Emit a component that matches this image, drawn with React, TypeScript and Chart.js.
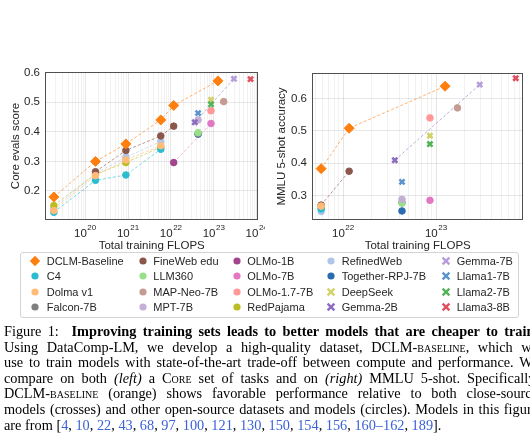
import React, { useEffect, useRef } from "react";
import { Chart, registerables } from "chart.js";
Chart.register(...registerables);

const SANS = "'Liberation Sans', Arial, Helvetica, sans-serif";
const SERIF = "'Liberation Serif', 'Times New Roman', Times, serif";

// ---------------- Left panel: Core evals score ----------------
const coreDclmFlops = [1.86e19, 1.74e20, 8.9e20, 5.8e21, 1.16e22, 1.25e23];
const coreDclm = [0.18, 0.3, 0.359, 0.44, 0.489, 0.572];
const coreFinewebFlops = [1.74e20, 8.9e20, 5.8e21, 1.16e22];
const coreFineweb = [0.265, 0.337, 0.386, 0.419];
const coreScaleFlops = [1.86e19, 1.74e20, 8.9e20, 5.8e21];
const coreC4 = [0.128, 0.236, 0.254, 0.341];
const coreDolma = [0.134, 0.252, 0.305, 0.353];
const coreRedPajama = [0.151, 0.257, 0.296, 0.348];
const coreRefinedWeb = [0.141, 0.259, 0.314, 0.367];

// ---------------- Right panel: MMLU 5-shot ----------------
const mmluDclmFlops = [5.8e21, 1.16e22, 1.25e23];
const mmluDclm = [0.383, 0.508, 0.638];
const mmluFinewebFlops = [5.8e21, 1.16e22];
const mmluFineweb = [0.27, 0.375];
const mmluScaleFlops = [5.8e21];
const mmluC4 = [0.258];
const mmluDolma = [0.267];
const mmluRedPajama = [0.262];
const mmluRefinedWeb = [0.25];

// ---------------- Single models (both panels) ----------------
const modelNames = [
  "Llama3-8B", "Gemma-7B", "Gemma-2B", "Llama1-7B", "Llama2-7B", "DeepSeek",
  "MPT-7B", "LLM360", "Falcon-7B", "Together-RPJ-7B",
  "OLMo-1.7-7B", "OLMo-7B", "OLMo-1B", "MAP-Neo-7B",
];
const modelFlops = [
  7.2e23, 2.95e23, 3.6e22, 4.3e22, 8.6e22, 8.6e22,
  4.3e22, 4.3e22, 4.3e22, 4.3e22,
  8.6e22, 8.6e22, 1.16e22, 1.7e23,
];
const modelCore = [
  0.578, 0.579, 0.432, 0.463, 0.493, 0.508,
  0.44, 0.397, 0.394, 0.392,
  0.471, 0.428, 0.296, 0.502,
];
const modelMmlu = [
  0.663, 0.643, 0.409, 0.342, 0.459, 0.485,
  0.288, 0.276, 0.278, 0.252,
  0.54, 0.285, null, 0.571,
];

// ---------------- Axis ticks ----------------
const coreYTicks = [0.2, 0.3, 0.4, 0.5, 0.6];
const mmluYTicks = [0.3, 0.4, 0.5, 0.6];
const coreXExponents = [20, 21, 22, 23, 24];
const mmluXExponents = [22, 23];

// ---------------- Legend layout (column major) ----------------
const legendColumns = [
  ["DCLM-Baseline", "C4", "Dolma v1", "Falcon-7B"],
  ["FineWeb edu", "LLM360", "MAP-Neo-7B", "MPT-7B"],
  ["OLMo-1B", "OLMo-7B", "OLMo-1.7-7B", "RedPajama"],
  ["RefinedWeb", "Together-RPJ-7B", "DeepSeek", "Gemma-2B"],
  ["Gemma-7B", "Llama1-7B", "Llama2-7B", "Llama3-8B"],
];

type Marker = "circle" | "diamond" | "cross";
const STYLE: Record<string, { color: string; marker: Marker }> = {
  "DCLM-Baseline": { color: "#ff7f0e", marker: "diamond" },
  C4: { color: "#2bbccf", marker: "circle" },
  "Dolma v1": { color: "#ffbb78", marker: "circle" },
  "Falcon-7B": { color: "#7f7f7f", marker: "circle" },
  "FineWeb edu": { color: "#8c564b", marker: "circle" },
  LLM360: { color: "#98df8a", marker: "circle" },
  "MAP-Neo-7B": { color: "#c49c94", marker: "circle" },
  "MPT-7B": { color: "#c5b0d5", marker: "circle" },
  "OLMo-1B": { color: "#a2458f", marker: "circle" },
  "OLMo-7B": { color: "#e377c2", marker: "circle" },
  "OLMo-1.7-7B": { color: "#ff9896", marker: "circle" },
  RedPajama: { color: "#bcbd22", marker: "circle" },
  RefinedWeb: { color: "#aec7e8", marker: "circle" },
  "Together-RPJ-7B": { color: "#2a6cb0", marker: "circle" },
  DeepSeek: { color: "#d2d26a", marker: "cross" },
  "Gemma-2B": { color: "#8e6cc0", marker: "cross" },
  "Gemma-7B": { color: "#b69ddc", marker: "cross" },
  "Llama1-7B": { color: "#5a95cc", marker: "cross" },
  "Llama2-7B": { color: "#55b35a", marker: "cross" },
  "Llama3-8B": { color: "#e0505f", marker: "cross" },
};

function hexA(hex: string, a: number) {
  const n = parseInt(hex.slice(1), 16);
  return `rgba(${(n >> 16) & 255},${(n >> 8) & 255},${n & 255},${a})`;
}

function series(name: string, xs: number[], ys: (number | null)[], line: boolean) {
  const st = STYLE[name];
  const pts = xs
    .map((x, i) => ({ x, y: ys[i] }))
    .filter((p) => p.y !== null && p.y !== undefined) as { x: number; y: number }[];
  const cross = st.marker === "cross";
  return {
    label: name,
    data: pts,
    showLine: line,
    borderColor: hexA(st.color, 0.6),
    borderDash: [3, 2],
    borderWidth: 1,
    pointStyle: cross ? "crossRot" : st.marker === "diamond" ? "rectRot" : "circle",
    pointRadius: cross ? 3.6 : st.marker === "diamond" ? 5 : 3.3,
    pointBorderWidth: cross ? 2.6 : 1,
    pointBackgroundColor: st.color,
    pointBorderColor: st.color,
  };
}

function link(color: string, a: { x: number; y: number }, b: { x: number; y: number }) {
  return {
    label: "",
    data: [a, b],
    showLine: true,
    borderColor: hexA(color, 0.55),
    borderDash: [3, 2],
    borderWidth: 1,
    pointRadius: 0,
  };
}

function modelPoint(name: string, values: (number | null)[]) {
  const i = modelNames.indexOf(name);
  return { x: modelFlops[i], y: values[i] as number };
}

function buildDatasets(panel: "core" | "mmlu") {
  const vals = panel === "core" ? modelCore : modelMmlu;
  const ds: any[] = [];
  if (panel === "core") {
    ds.push(series("DCLM-Baseline", coreDclmFlops, coreDclm, true));
  } else {
    ds.push(series("DCLM-Baseline", mmluDclmFlops, mmluDclm, true));
  }
  for (let i = 0; i < 6; i++) ds.push(series(modelNames[i], [modelFlops[i]], [vals[i]], false));
  if (panel === "core") {
    ds.push(series("Dolma v1", coreScaleFlops, coreDolma, true));
    ds.push(series("FineWeb edu", coreFinewebFlops, coreFineweb, true));
    ds.push(series("C4", coreScaleFlops, coreC4, true));
    ds.push(series("RedPajama", coreScaleFlops, coreRedPajama, true));
    ds.push(series("RefinedWeb", coreScaleFlops, coreRefinedWeb, true));
  } else {
    ds.push(series("Dolma v1", mmluScaleFlops, mmluDolma, true));
    ds.push(series("FineWeb edu", mmluFinewebFlops, mmluFineweb, true));
    ds.push(series("C4", mmluScaleFlops, mmluC4, true));
    ds.push(series("RedPajama", mmluScaleFlops, mmluRedPajama, true));
    ds.push(series("RefinedWeb", mmluScaleFlops, mmluRefinedWeb, true));
  }
  for (let i = 6; i < modelNames.length; i++) ds.push(series(modelNames[i], [modelFlops[i]], [vals[i]], false));
  ds.push(link(STYLE["Gemma-2B"].color, modelPoint("Gemma-2B", vals), modelPoint("Gemma-7B", vals)));
  if (panel === "core") {
    ds.push(link(STYLE["OLMo-7B"].color, modelPoint("OLMo-1B", vals), modelPoint("OLMo-7B", vals)));
  }
  return ds;
}

type PanelCfg = {
  panel: "core" | "mmlu";
  xMinExp: number;
  xMaxExp: number;
  yMin: number;
  yMax: number;
  yTicks: number[];
  xExps: number[];
  yTitle: string;
  yAxisWidth: number;
  padTop: number;
  padRight: number;
  yTitleX: number;
};

const CANVAS_W = 265;
const CANVAS_H = 200;

function Panel({ cfg, left }: { cfg: PanelCfg; left: number }) {
  const ref = useRef<HTMLCanvasElement | null>(null);
  useEffect(() => {
    if (!ref.current) return;
    const xMin = Math.pow(10, cfg.xMinExp);
    const xMax = Math.pow(10, cfg.xMaxExp);
    const plugin = {
      id: "axisText",
      afterDraw(chart: any) {
        const { ctx, chartArea: a, scales } = chart;
        ctx.save();
        ctx.strokeStyle = "#505050";
        ctx.lineWidth = 1;
        ctx.strokeRect(
          Math.round(a.left) + 0.5,
          Math.round(a.top) + 0.5,
          Math.round(a.right - a.left) - 1,
          Math.round(a.bottom - a.top) - 1
        );
        ctx.fillStyle = "#262626";
        ctx.textAlign = "left";
        ctx.textBaseline = "alphabetic";
        for (const e of cfg.xExps) {
          const px = scales.x.getPixelForValue(Math.pow(10, e));
          ctx.font = `11.5px ${SANS}`;
          const w1 = ctx.measureText("10").width;
          ctx.font = `8px ${SANS}`;
          const sup = String(e);
          const w2 = ctx.measureText(sup).width;
          const start = px - (w1 + w2 + 0.5) / 2;
          ctx.font = `11.5px ${SANS}`;
          ctx.fillText("10", start, 181.5);
          ctx.font = `8px ${SANS}`;
          ctx.fillText(sup, start + w1 + 0.5, 174.5);
        }
        ctx.font = `11.5px ${SANS}`;
        ctx.textAlign = "center";
        ctx.fillText("Total training FLOPS", (a.left + a.right) / 2, 194);
        ctx.translate(cfg.yTitleX, (a.top + a.bottom) / 2);
        ctx.rotate(-Math.PI / 2);
        ctx.textBaseline = "middle";
        ctx.fillText(cfg.yTitle, 0, 0);
        ctx.restore();
      },
    };
    const chart = new Chart(ref.current, {
      type: "scatter",
      data: { datasets: buildDatasets(cfg.panel) },
      options: {
        animation: false,
        responsive: false,
        events: [],
        layout: { padding: { left: 0, top: cfg.padTop, right: cfg.padRight, bottom: 0 } },
        plugins: { legend: { display: false }, tooltip: { enabled: false } },
        scales: {
          x: {
            type: "logarithmic",
            min: xMin,
            max: xMax,
            afterBuildTicks: (s: any) => {
              const t: any[] = [];
              for (let k = Math.floor(cfg.xMinExp); k <= Math.ceil(cfg.xMaxExp); k++) {
                for (let m = 1; m <= 9; m++) {
                  const v = m * Math.pow(10, k);
                  if (v >= xMin && v <= xMax) t.push({ value: v, major: m === 1 });
                }
              }
              s.ticks = t;
            },
            afterFit: (s: any) => {
              s.height = 35;
            },
            ticks: { display: false },
            grid: {
              drawTicks: false,
              lineWidth: 0.8,
              color: (c: any) =>
                c.tick && c.tick.major ? "rgba(0,0,0,0.13)" : "rgba(0,0,0,0.065)",
            },
            border: { display: false },
          },
          y: {
            type: "linear",
            min: cfg.yMin,
            max: cfg.yMax,
            afterBuildTicks: (s: any) => {
              s.ticks = cfg.yTicks.map((v) => ({ value: v }));
            },
            afterFit: (s: any) => {
              s.width = cfg.yAxisWidth;
            },
            ticks: {
              callback: (v: any) => Number(v).toFixed(1),
              font: { size: 11.5, family: SANS },
              color: "#262626",
              padding: 5,
            },
            grid: { drawTicks: false, lineWidth: 0.8, color: "rgba(0,0,0,0.12)" },
            border: { display: false },
          },
        },
      } as any,
      plugins: [plugin],
    });
    return () => chart.destroy();
  }, [cfg]);
  return (
    <canvas
      ref={ref}
      width={CANVAS_W}
      height={CANVAS_H}
      style={{ position: "absolute", left, top: 55, width: CANVAS_W, height: CANVAS_H }}
    />
  );
}

const coreCfg: PanelCfg = {
  panel: "core",
  xMinExp: 19.063,
  xMaxExp: 24.04,
  yMin: 0.102,
  yMax: 0.602,
  yTicks: coreYTicks,
  xExps: coreXExponents,
  yTitle: "Core evals score",
  yAxisWidth: 45,
  padTop: 17,
  padRight: 6,
  yTitleX: 16,
};

const mmluCfg: PanelCfg = {
  panel: "mmlu",
  xMinExp: 21.665,
  xMaxExp: 23.94,
  yMin: 0.224,
  yMax: 0.679,
  yTicks: mmluYTicks,
  xExps: mmluXExponents,
  yTitle: "MMLU 5-shot accuracy",
  yAxisWidth: 47,
  padTop: 18,
  padRight: 6,
  yTitleX: 16.5,
};

function LegendMarker({ name }: { name: string }) {
  const st = STYLE[name];
  let shape: any;
  if (st.marker === "circle") shape = <circle cx={6} cy={6} r={3.6} fill={st.color} />;
  else if (st.marker === "diamond")
    shape = <polygon points="6,0.8 11.2,6 6,11.2 0.8,6" fill={st.color} />;
  else
    shape = (
      <g stroke={st.color} strokeWidth={2.4}>
        <line x1={2.6} y1={2.6} x2={9.4} y2={9.4} />
        <line x1={9.4} y1={2.6} x2={2.6} y2={9.4} />
      </g>
    );
  return (
    <svg width={12} height={12} style={{ position: "absolute", left: -6, top: -6 }}>
      {shape}
    </svg>
  );
}

const colMarkerX = [14, 121.7, 215.7, 309.7, 425];
const colTextX = [25.7, 132.3, 226.3, 320.7, 435.7];
const rowY = [7.7, 23.3, 39, 54.3];

function Legend() {
  return (
    <div
      style={{
        position: "absolute",
        left: 20,
        top: 252,
        width: 499,
        height: 66,
        border: "1px solid #d4d4d4",
        borderRadius: 3,
        boxSizing: "border-box",
        fontFamily: SANS,
        fontSize: 11,
        color: "#262626",
      }}
    >
      {legendColumns.map((col, ci) =>
        col.map((name, ri) => (
          <React.Fragment key={name}>
            <div style={{ position: "absolute", left: colMarkerX[ci], top: rowY[ri] }}>
              <LegendMarker name={name} />
            </div>
            <div
              style={{
                position: "absolute",
                left: colTextX[ci],
                top: rowY[ri] - 7,
                height: 14,
                lineHeight: "14px",
                whiteSpace: "nowrap",
              }}
            >
              {name}
            </div>
          </React.Fragment>
        ))
      )}
    </div>
  );
}

const sc = (t: string) => <span style={{ fontVariant: "small-caps" }}>{t}</span>;
const LINK = "#3a62d8";
const refs = ["4", "10", "22", "43", "68", "97", "100", "121", "130", "150", "154", "156", "160–162", "189"];

function Caption() {
  const lineStyle: React.CSSProperties = {
    whiteSpace: "nowrap",
    textAlign: "justify",
    textAlignLast: "justify" as any,
    height: 15.6,
  };
  return (
    <div
      style={{
        position: "absolute",
        left: 4,
        top: 324,
        width: 534,
        fontFamily: SERIF,
        fontSize: 14.3,
        lineHeight: "15.6px",
        color: "#000",
      }}
    >
      <div style={lineStyle}>
        Figure 1:&nbsp; <b>Improving training sets leads to better models that are cheaper to train.</b>
      </div>
      <div style={lineStyle}>
        Using DataComp-LM, we develop a high-quality dataset, DCLM-{sc("baseline")}, which we
      </div>
      <div style={lineStyle}>
        use to train models with state-of-the-art trade-off between compute and performance. We
      </div>
      <div style={lineStyle}>
        compare on both <i>(left)</i> a {sc("Core")} set of tasks and on <i>(right)</i> MMLU 5-shot. Specifically,
      </div>
      <div style={lineStyle}>
        DCLM-{sc("baseline")} (orange) shows favorable performance relative to both close-source
      </div>
      <div style={lineStyle}>
        models (crosses) and other open-source datasets and models (circles). Models in this figure
      </div>
      <div style={{ whiteSpace: "nowrap", height: 15.6 }}>
        are from [
        {refs.map((r, i) => (
          <React.Fragment key={r}>
            <span style={{ color: LINK }}>{r}</span>
            {i < refs.length - 1 ? ", " : ""}
          </React.Fragment>
        ))}
        ].
      </div>
    </div>
  );
}

export default function App() {
  return (
    <div
      style={{
        position: "absolute",
        left: 0,
        top: 0,
        width: 530,
        height: 442,
        overflow: "hidden",
        background: "#fff",
      }}
    >
      <Panel cfg={coreCfg} left={0} />
      <Panel cfg={mmluCfg} left={265} />
      <Legend />
      <Caption />
    </div>
  );
}
